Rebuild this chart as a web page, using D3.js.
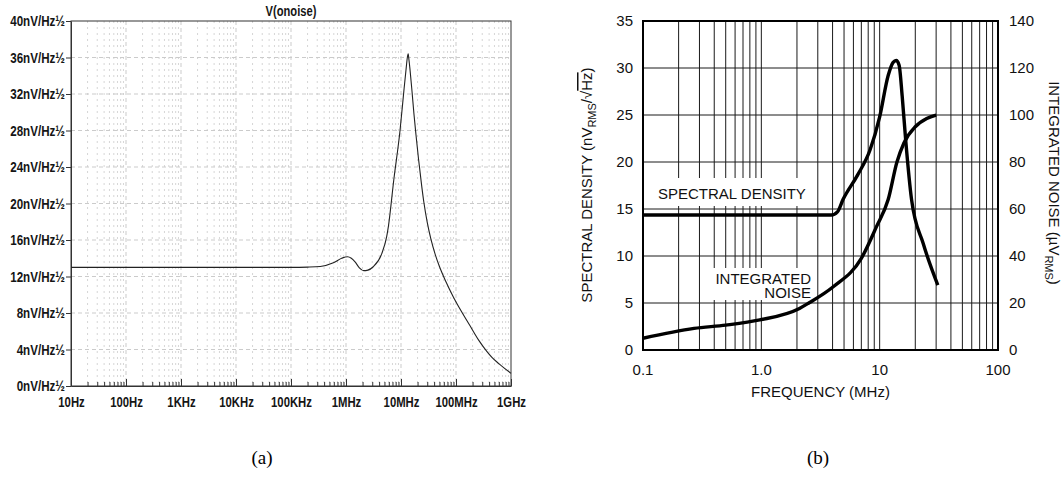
<!DOCTYPE html>
<html>
<head>
<meta charset="utf-8">
<script src="https://cdn.jsdelivr.net/npm/d3@7"></script>
<style>
  html, body { margin: 0; padding: 0; background: #fff; }
  svg { display: block; }
  .a-text { font-family: "Liberation Sans", Arial, sans-serif; font-weight: bold; font-size: 14.5px; fill: #151515; }
  .b-text { font-family: "Liberation Sans", Arial, Helvetica, sans-serif; font-size: 15px; fill: #111; }
  .cap { font-family: "Liberation Serif", "DejaVu Serif", serif; font-size: 19px; fill: #000; }
</style>
</head>
<body>
<svg id="chart" width="1064" height="482"></svg>
<script>
// ─── Data ─────────────────────────────────────────────────────────────────────

// (a) simulated output noise, V(onoise)
const simFreqHz = [10, 1e5, 2e5, 3.4e5, 5.9e5, 8.35e5, 1.07e6, 1.25e6, 1.46e6, 1.75e6, 2.1e6, 2.5e6,
  3.13e6, 4.47e6, 5.5e6, 5.9e6, 7.4e6, 9.6e6, 11.3e6, 12.5e6, 13.0e6, 13.5e6, 13.98e6, 14.57e6,
  15.85e6, 17.2e6, 18.74e6, 20.8e6, 23.8e6, 26e6, 30e6, 35e6, 42e6, 50e6, 65e6, 89e6,
  180e6, 260e6, 363e6, 450e6, 600e6, 1e9];
const simNoise = [13.0, 13.0, 13.03, 13.1, 13.5, 14.0, 14.17, 14.0, 13.6, 12.95, 12.64, 12.7,
  13.07, 14.5, 16.4, 17.5, 22.6, 28.0, 32.4, 35.0, 35.95, 36.4, 35.7, 34.7,
  32.3, 29.8, 27.5, 24.9, 21.9, 20.16, 17.93, 16.09, 14.4, 13.09, 11.48, 9.78,
  6.6, 5.0, 3.8, 3.14, 2.45, 1.39];
const noiseTicksA = [0, 4, 8, 12, 16, 20, 24, 28, 32, 36, 40];
const decadesA = [10, 1e2, 1e3, 1e4, 1e5, 1e6, 1e7, 1e8, 1e9];
const decadeLabelsA = ["10Hz", "100Hz", "1KHz", "10KHz", "100KHz", "1MHz", "10MHz", "100MHz", "1GHz"];

// (b) datasheet curves
const sdFreqMHz = [0.1, 3.9, 4.4, 4.9, 6.5, 8.3, 10, 11.8, 13, 13.8, 14.6, 15.5, 16.6, 18.6, 23.3, 31];
const sdValue = [14.36, 14.36, 14.7, 16.0, 18.6, 21.3, 24.8, 29.2, 30.6, 30.8, 30.3, 27.0, 22.3, 16.0, 11.35, 6.9];
const intFreqMHz = [0.1, 0.27, 0.5, 0.97, 2.1, 2.5, 4.05, 7.0, 9.4, 11.8, 14, 16, 20, 25, 30];
const intValue = [5.0, 9.2, 10.6, 12.8, 17.7, 19.9, 26.9, 39, 52.5, 64, 80, 88, 95, 98.5, 100];
const freqTicksB = [0.1, 1, 10, 100];
const freqLabelsB = ["0.1", "1.0", "10", "100"];
const sdTicks = [0, 5, 10, 15, 20, 25, 30, 35];
const intTicks = [0, 20, 40, 60, 80, 100, 120, 140];

const svg = d3.select("#chart");

function minorsOf(decades) {
  const out = [];
  decades.slice(0, -1).forEach(d => { for (let k = 2; k <= 9; k++) out.push(d * k); });
  return out;
}

// squeeze text horizontally to mimic a narrow font
function narrow(sel, f) {
  sel.each(function () {
    const w = this.getComputedTextLength();
    d3.select(this).attr("textLength", w * f).attr("lengthAdjust", "spacingAndGlyphs");
  });
}

// ─── (a) LTspice-style plot ───────────────────────────────────────────────────

function renderSim() {
  const L = 71, R = 511, T = 21, B = 386;
  const x = d3.scaleLog().domain([10, 1e9]).range([L, R]);
  const y = d3.scaleLinear().domain([0, 40]).range([B, T]);
  const g = svg.append("g");
  const minors = minorsOf(decadesA);

  // minor vertical grid (dotted)
  g.append("g").selectAll("line").data(minors).join("line")
    .attr("x1", d => x(d)).attr("x2", d => x(d)).attr("y1", T).attr("y2", B)
    .attr("stroke", "#d6d6d6").attr("stroke-width", 1).attr("stroke-dasharray", "2,4");
  // major grid (dashed)
  g.append("g").selectAll("line").data(decadesA.slice(1, -1)).join("line")
    .attr("x1", d => x(d)).attr("x2", d => x(d)).attr("y1", T).attr("y2", B)
    .attr("stroke", "#cbcbcb").attr("stroke-dasharray", "4,3");
  g.append("g").selectAll("line").data(noiseTicksA.slice(1, -1)).join("line")
    .attr("x1", L).attr("x2", R).attr("y1", d => y(d)).attr("y2", d => y(d))
    .attr("stroke", "#cbcbcb").attr("stroke-dasharray", "4,3");

  // frame
  g.append("rect").attr("x", L).attr("y", T).attr("width", R - L).attr("height", B - T)
    .attr("fill", "none").attr("stroke", "#333").attr("stroke-width", 1);

  // y axis
  const ya = g.append("g").attr("transform", `translate(${L},0)`)
    .call(d3.axisLeft(y).tickValues(noiseTicksA).tickFormat(d => d + "nV/Hz½").tickSize(5).tickSizeOuter(0).tickPadding(1));
  ya.select(".domain").attr("stroke", "#333");
  ya.selectAll(".tick line").attr("stroke", "#333");
  ya.selectAll("text").attr("class", "a-text").attr("font-family", null).attr("font-size", null);
  narrow(ya.selectAll("text"), 0.8);

  // x axis: major + minor ticks pointing inward
  const xa = g.append("g").attr("transform", `translate(0,${B})`)
    .call(d3.axisBottom(x).tickValues(decadesA).tickFormat((d, i) => decadeLabelsA[i]).tickSize(-7).tickSizeOuter(0).tickPadding(11));
  xa.select(".domain").attr("stroke", "#333");
  xa.selectAll(".tick line").attr("stroke", "#333");
  xa.selectAll("text").attr("class", "a-text").attr("font-family", null).attr("font-size", null);
  narrow(xa.selectAll("text"), 0.78);
  const xm = g.append("g").attr("transform", `translate(0,${B})`)
    .call(d3.axisBottom(x).tickValues(minors).tickFormat("").tickSize(-4).tickSizeOuter(0));
  xm.select(".domain").remove();
  xm.selectAll(".tick line").attr("stroke", "#333");

  // curve
  const line = d3.line().x((d, i) => x(simFreqHz[i])).y(d => y(d)).curve(d3.curveMonotoneX);
  g.append("path").datum(simNoise).attr("d", line)
    .attr("fill", "none").attr("stroke", "#222").attr("stroke-width", 1.1);

  // title
  const t = g.append("text").attr("class", "a-text").attr("x", (L + R) / 2).attr("y", 16)
    .attr("text-anchor", "middle").text("V(onoise)");
  narrow(t, 0.77);
}

// ─── (b) Datasheet plot ──────────────────────────────────────────────────────

function renderSheet() {
  const L = 643, R = 998, T = 21, B = 350;
  const x = d3.scaleLog().domain([0.1, 100]).range([L, R]);
  const y = d3.scaleLinear().domain([0, 35]).range([B, T]);
  const yR = d3.scaleLinear().domain([0, 140]).range([B, T]);
  const g = svg.append("g");

  const vLines = [];
  [0.1, 1, 10].forEach(d => { for (let k = 1; k <= 9; k++) vLines.push(d * k); });
  g.append("g").selectAll("line").data(vLines.slice(1)).join("line")
    .attr("x1", d => x(d)).attr("x2", d => x(d)).attr("y1", T).attr("y2", B)
    .attr("stroke", "#1a1a1a").attr("stroke-width", 1);
  g.append("g").selectAll("line").data(sdTicks.slice(1, -1)).join("line")
    .attr("x1", L).attr("x2", R).attr("y1", d => y(d)).attr("y2", d => y(d))
    .attr("stroke", "#1a1a1a").attr("stroke-width", 1);

  // white patches behind the in-plot labels
  g.append("rect").attr("x", 650).attr("y", 178).attr("width", 166).attr("height", 28).attr("fill", "#fff");
  g.append("rect").attr("x", 705).attr("y", 268).attr("width", 111).attr("height", 32).attr("fill", "#fff");

  g.append("rect").attr("x", L).attr("y", T).attr("width", R - L).attr("height", B - T)
    .attr("fill", "none").attr("stroke", "#000").attr("stroke-width", 2);

  // curves
  const sdLine = d3.line().x((d, i) => x(sdFreqMHz[i])).y(d => y(d)).curve(d3.curveMonotoneX);
  const intLine = d3.line().x((d, i) => x(intFreqMHz[i])).y(d => yR(d)).curve(d3.curveMonotoneX);
  g.append("path").datum(sdValue).attr("d", sdLine)
    .attr("fill", "none").attr("stroke", "#000").attr("stroke-width", 3.4).attr("stroke-linejoin", "round");
  g.append("path").datum(intValue).attr("d", intLine)
    .attr("fill", "none").attr("stroke", "#000").attr("stroke-width", 3.4).attr("stroke-linejoin", "round");

  // tick labels
  g.append("g").selectAll("text").data(sdTicks).join("text")
    .attr("class", "b-text").attr("x", 633).attr("y", d => y(d)).attr("dy", "0.36em")
    .attr("text-anchor", "end").text(d => d);
  g.append("g").selectAll("text").data(intTicks).join("text")
    .attr("class", "b-text").attr("x", 1009).attr("y", d => yR(d)).attr("dy", "0.36em")
    .text(d => d);
  g.append("g").selectAll("text").data(freqTicksB).join("text")
    .attr("class", "b-text").attr("x", d => x(d)).attr("y", 375)
    .attr("text-anchor", "middle").text((d, i) => freqLabelsB[i]);

  // axis titles
  g.append("text").attr("class", "b-text").attr("x", (L + R) / 2).attr("y", 397)
    .attr("text-anchor", "middle").text("FREQUENCY (MHz)");

  const lt = g.append("text").attr("class", "b-text")
    .attr("transform", "translate(592,185) rotate(-90)").attr("text-anchor", "middle");
  lt.append("tspan").text("SPECTRAL DENSITY (nV");
  lt.append("tspan").attr("font-size", "11px").attr("dy", 4).text("RMS");
  lt.append("tspan").attr("dy", -4).text("/√");
  lt.append("tspan").style("text-decoration", "overline").text("Hz");
  lt.append("tspan").text(")");

  const rt = g.append("text").attr("class", "b-text")
    .attr("transform", "translate(1049,183) rotate(90)").attr("text-anchor", "middle");
  rt.append("tspan").text("INTEGRATED NOISE (µV");
  rt.append("tspan").attr("font-size", "11px").attr("dy", 4).text("RMS");
  rt.append("tspan").attr("dy", -4).text(")");

  // in-plot labels
  g.append("text").attr("class", "b-text").attr("x", 658).attr("y", 199).text("SPECTRAL DENSITY");
  g.append("text").attr("class", "b-text").attr("x", 811).attr("y", 284).attr("text-anchor", "end").text("INTEGRATED");
  g.append("text").attr("class", "b-text").attr("x", 811).attr("y", 298).attr("text-anchor", "end").text("NOISE");
}

// ─── Captions ─────────────────────────────────────────────────────────────────

function renderCaptions() {
  svg.append("text").attr("class", "cap").attr("x", 262).attr("y", 464).attr("text-anchor", "middle").text("(a)");
  svg.append("text").attr("class", "cap").attr("x", 818).attr("y", 464).attr("text-anchor", "middle").text("(b)");
}

renderSim();
renderSheet();
renderCaptions();
</script>
</body>
</html>
